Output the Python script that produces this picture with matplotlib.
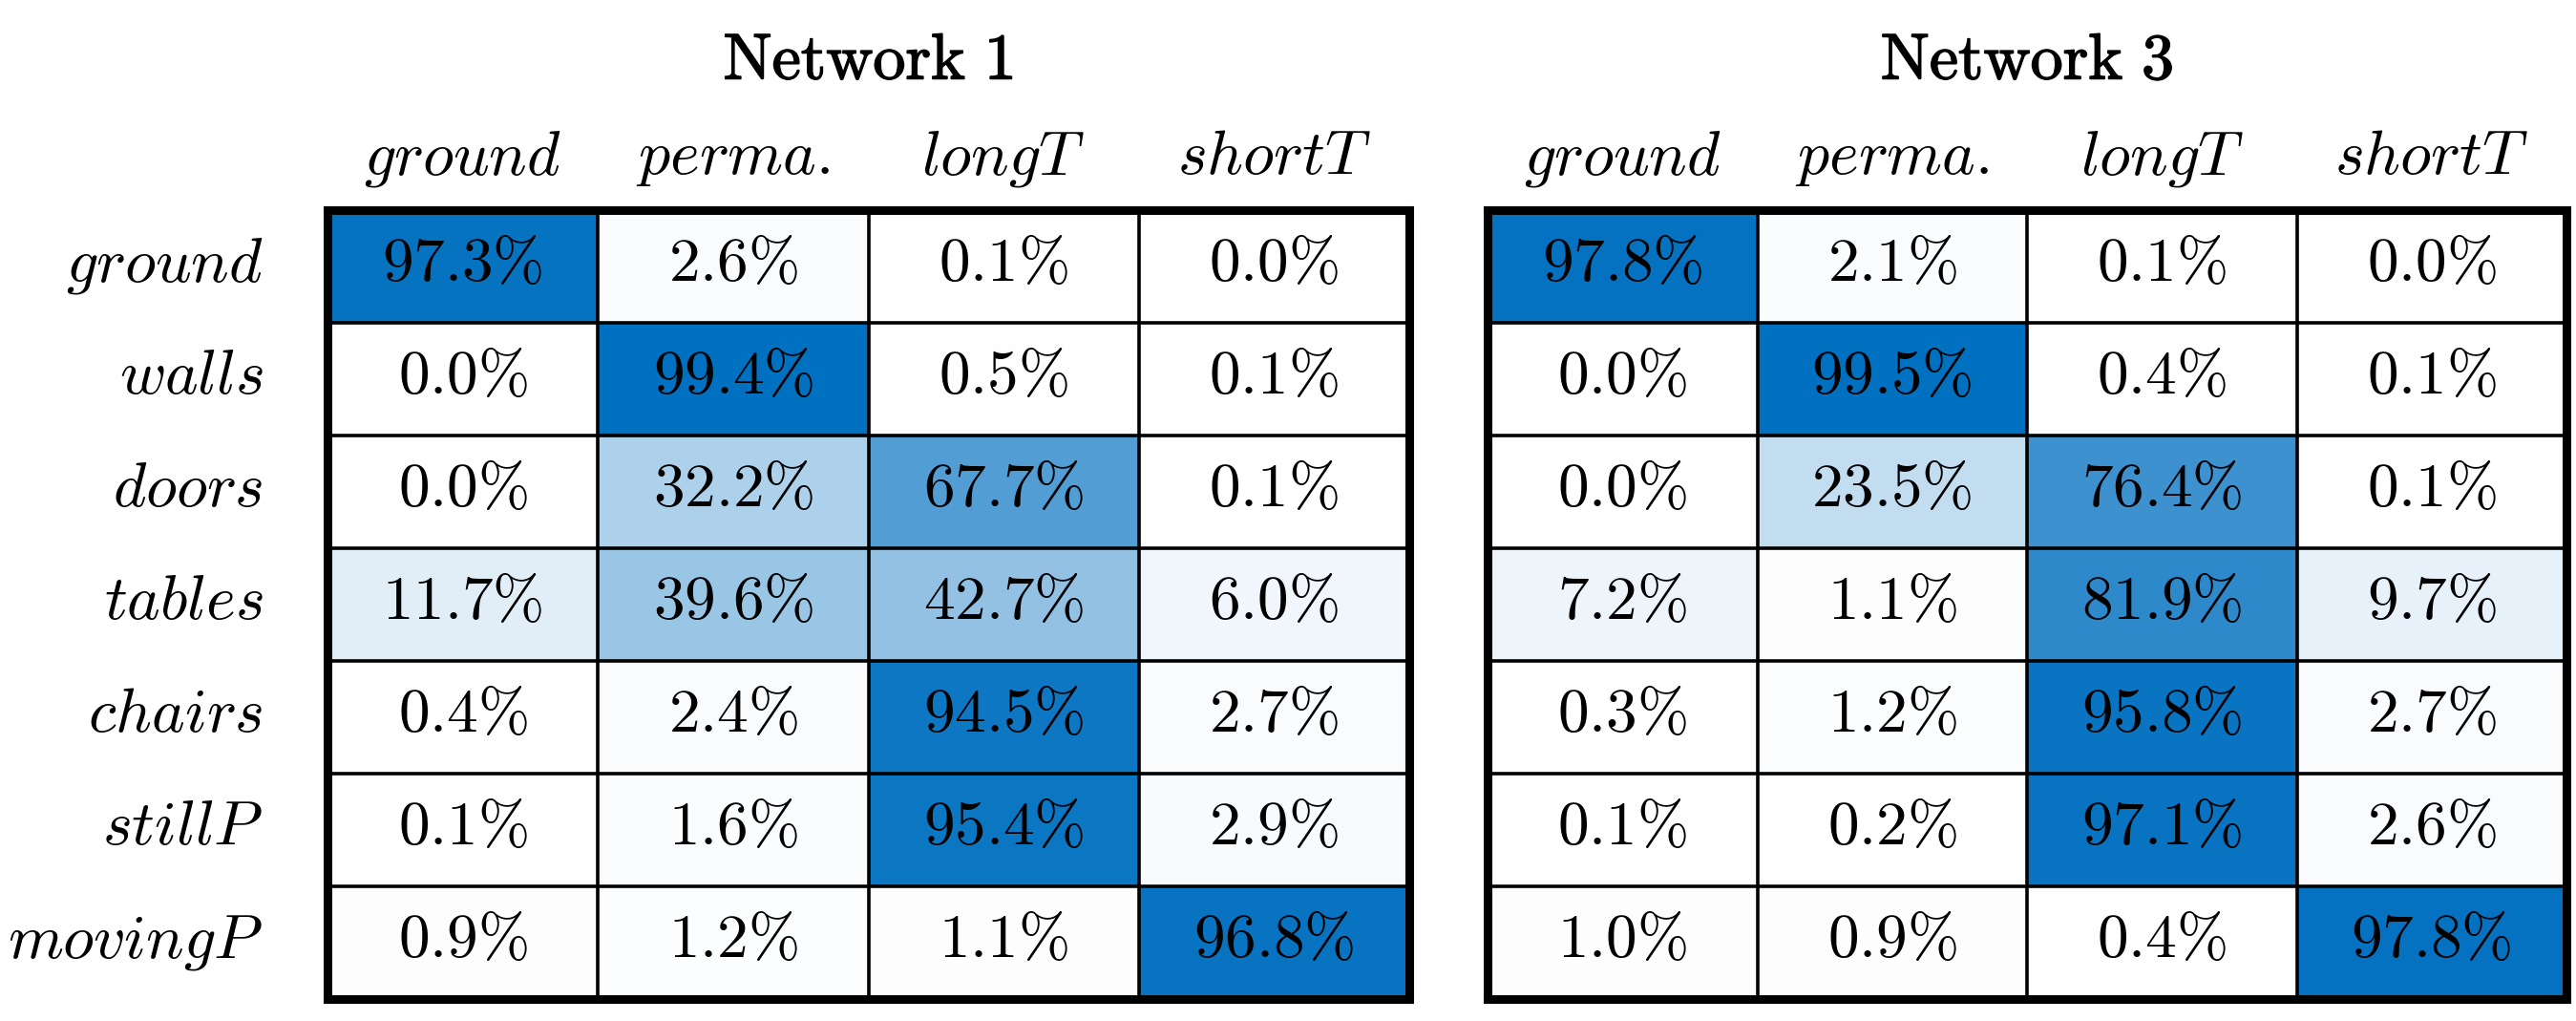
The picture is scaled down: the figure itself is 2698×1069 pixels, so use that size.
import matplotlib
matplotlib.use('Agg')
import matplotlib.pyplot as plt
import matplotlib.patheffects as pe
import numpy as np
from matplotlib.colors import LinearSegmentedColormap

plt.rcParams['mathtext.fontset'] = 'cm'

true_classes = ['ground', 'walls', 'doors', 'tables', 'chairs', 'stillP', 'movingP']
pred_classes = ['ground', 'perma.', 'longT', 'shortT']
network_1 = [
    [97.3, 2.6, 0.1, 0.0],
    [0.0, 99.4, 0.5, 0.1],
    [0.0, 32.2, 67.7, 0.1],
    [11.7, 39.6, 42.7, 6.0],
    [0.4, 2.4, 94.5, 2.7],
    [0.1, 1.6, 95.4, 2.9],
    [0.9, 1.2, 1.1, 96.8],
]
network_3 = [
    [97.8, 2.1, 0.1, 0.0],
    [0.0, 99.5, 0.4, 0.1],
    [0.0, 23.5, 76.4, 0.1],
    [7.2, 1.1, 81.9, 9.7],
    [0.3, 1.2, 95.8, 2.7],
    [0.1, 0.2, 97.1, 2.6],
    [1.0, 0.9, 0.4, 97.8],
]
titles = ['Network 1', 'Network 3']

cmap = LinearSegmentedColormap.from_list('wb', ['#ffffff', '#0070c0'])

W, H = 2698, 1069
fig = plt.figure(figsize=(W / 100, H / 100), dpi=100)

top_px, bot_px = 220, 1046
boxes = [(343, 1476), (1558, 2688)]
NUM_FS = 47
LAB_FS = 47.5
TITLE_FS = 49
BASE_OFF = 0.13


def draw(ax, data, title, show_rows):
    arr = np.array(data)
    nr, nc = arr.shape
    ax.imshow(arr, cmap=cmap, vmin=0, vmax=100, aspect='auto',
              extent=(-0.5, nc - 0.5, nr - 0.5, -0.5), interpolation='nearest')
    ax.set_xlim(-0.5, nc - 0.5)
    ax.set_ylim(nr - 0.5, -0.5)
    for i in range(1, nr):
        ax.axhline(i - 0.5, color='black', lw=2.6)
    for j in range(1, nc):
        ax.axvline(j - 0.5, color='black', lw=2.6)
    for s in ax.spines.values():
        s.set_linewidth(6.5)
        s.set_color('black')
    ax.set_xticks([])
    ax.set_yticks([])
    for i in range(nr):
        for j in range(nc):
            ax.text(j, i + BASE_OFF, r'$%.1f\%%$' % arr[i, j], ha='center',
                    va='baseline', fontsize=NUM_FS, color='black')
    xt = ax.get_xaxis_transform()
    for j, lab in enumerate(pred_classes):
        ax.text(j, 1.046, r'$%s$' % lab, transform=xt, ha='center',
                va='baseline', fontsize=LAB_FS)
    if show_rows:
        yt = ax.get_yaxis_transform()
        for i, lab in enumerate(true_classes):
            ax.text(-0.0595, i + BASE_OFF, r'$%s$' % lab, transform=yt,
                    ha='right', va='baseline', fontsize=LAB_FS)
    ax.text(0.5, 1.166, r'$\mathrm{%s}$' % title.replace(' ', r'\ '),
            transform=ax.transAxes, ha='center', va='baseline',
            fontsize=TITLE_FS,
            path_effects=[pe.withStroke(linewidth=1.1, foreground='black')])


for k, (data, title) in enumerate(zip([network_1, network_3], titles)):
    x0, x1 = boxes[k]
    ax = fig.add_axes([x0 / W, 1 - bot_px / H, (x1 - x0) / W,
                       (bot_px - top_px) / H])
    draw(ax, data, title, k == 0)

fig.savefig('out.png', dpi=100, facecolor='white')
